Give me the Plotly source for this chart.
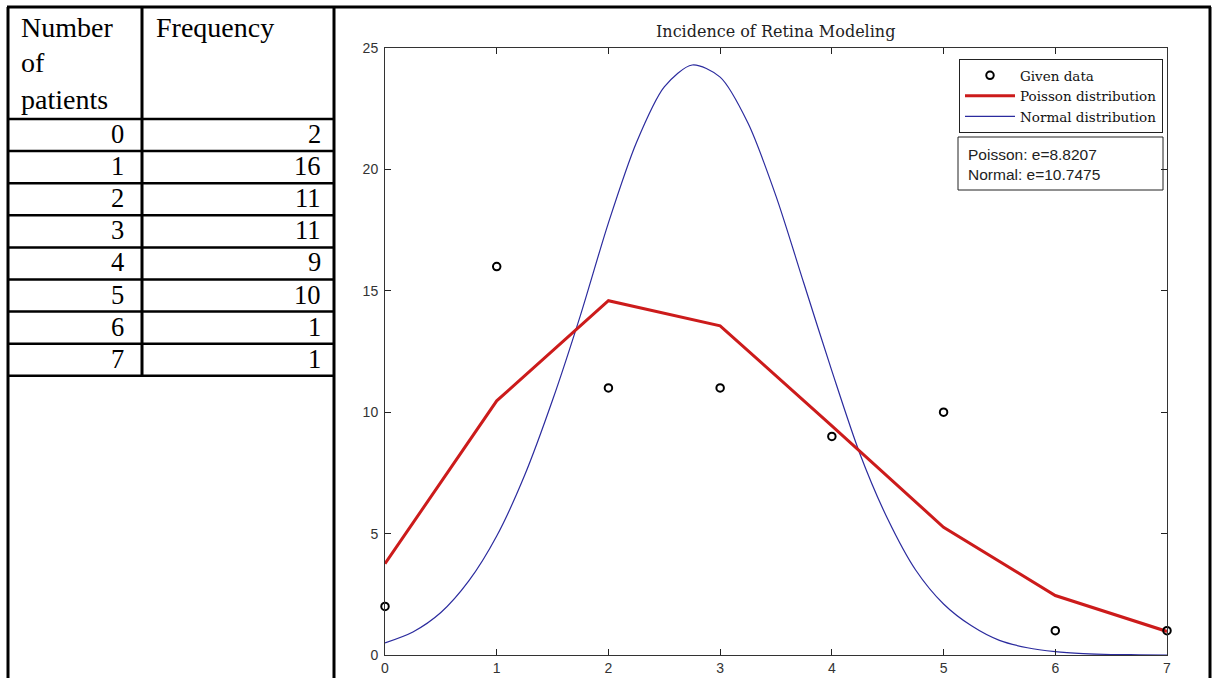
import plotly.graph_objects as go

W, H = 1214, 678

# ---- data ----
patients = [0, 1, 2, 3, 4, 5, 6, 7]
frequency = [2, 16, 11, 11, 9, 10, 1, 1]

poisson_fit = [3.76, 10.47, 14.59, 13.56, 9.44, 5.26, 2.45, 0.97]

normal_x = [0, 0.25, 0.5, 0.75, 1, 1.25, 1.5, 1.75, 2, 2.25, 2.5, 2.75, 3,
            3.25, 3.5, 3.75, 4, 4.25, 4.5, 4.75, 5, 5.25, 5.5, 5.75, 6,
            6.25, 6.5, 6.75, 7]
normal_fit = [0.5, 0.95, 1.75, 3.05, 4.9, 7.4, 10.5, 14.0, 17.8, 21.1, 23.4,
              24.3, 23.8, 21.9, 18.9, 15.3, 11.7, 8.3, 5.6, 3.5, 2.1, 1.2,
              0.6, 0.3, 0.14, 0.06, 0.02, 0.01, 0.0]

x_ticks = [0, 1, 2, 3, 4, 5, 6, 7]
y_ticks = [0, 5, 10, 15, 20, 25]

header_left = ["Number", "of", "patients"]
header_right = "Frequency"
errors = {"Poisson": 8.8207, "Normal": 10.7475}


def px(x):
    return x / W


def py(y):
    return 1 - y / H


fig = go.Figure()

fig.add_trace(go.Scatter(
    x=normal_x, y=normal_fit, mode="lines", name="Normal distribution",
    line=dict(color="#2b2b9e", width=1.2, shape="spline", smoothing=0.8),
    legendrank=3,
))
fig.add_trace(go.Scatter(
    x=patients, y=poisson_fit, mode="lines", name="Poisson distribution",
    line=dict(color="#cc1b1b", width=3),
    legendrank=2,
))
fig.add_trace(go.Scatter(
    x=patients, y=frequency, mode="markers", name="Given data",
    marker=dict(symbol="circle-open", size=7.5, color="black",
                line=dict(width=2, color="black")),
    cliponaxis=False, legendrank=1,
))

axis_common = dict(
    ticks="inside", ticklen=6, tickcolor="#222", tickwidth=1,
    showline=True, linecolor="#333", linewidth=1, mirror="ticks",
    showgrid=False, zeroline=False, automargin=False,
    tickfont=dict(family="Liberation Sans", size=14, color="#333"),
)

fig.update_layout(
    width=W, height=H,
    margin=dict(l=0, r=0, t=0, b=0, pad=0, autoexpand=False),
    paper_bgcolor="white", plot_bgcolor="white",
    xaxis=dict(domain=[px(385), px(1167)], range=[0, 7],
               tickvals=x_ticks, **axis_common),
    yaxis=dict(domain=[py(655), py(48)], range=[0, 25],
               tickvals=y_ticks, ticklabelstandoff=3, **axis_common),
    showlegend=True,
    legend=dict(
        x=px(1163), xanchor="right", y=py(59), yanchor="top",
        bordercolor="#222", borderwidth=1, bgcolor="white",
        font=dict(family="DejaVu Serif", size=13.5, color="#111"),
        itemwidth=50, tracegroupgap=0,
    ),
)

shapes = []
annotations = []

# table frame
frame_color = "black"
shapes.append(dict(type="line", xref="paper", yref="paper",
                   x0=px(7), x1=px(1211), y0=py(7), y1=py(7),
                   line=dict(color=frame_color, width=3)))
for xv, y_end in [(8, 690), (334, 690), (1210, 690), (142, 376)]:
    shapes.append(dict(type="line", xref="paper", yref="paper",
                       x0=px(xv), x1=px(xv), y0=py(7), y1=py(y_end),
                       line=dict(color=frame_color, width=3)))

row_top = 119
row_h = 32.1
for i in range(len(patients) + 1):
    yy = row_top + i * row_h
    shapes.append(dict(type="line", xref="paper", yref="paper",
                       x0=px(8), x1=px(334), y0=py(yy), y1=py(yy),
                       line=dict(color=frame_color, width=2.5)))

header_font = dict(family="Liberation Serif", size=28, color="black")
table_font = dict(family="Liberation Serif", size=26.5, color="black")

# header cells
for word, yc in zip(header_left, [27.8, 62.5, 99.5]):
    annotations.append(dict(xref="paper", yref="paper", x=px(19),
                            y=py(yc), xanchor="left",
                            yanchor="middle", text=word, showarrow=False,
                            font=header_font))
annotations.append(dict(xref="paper", yref="paper", x=px(154), y=py(27.8),
                        xanchor="left", yanchor="middle", text=header_right,
                        showarrow=False, font=header_font))

# body cells
for i, (n, f) in enumerate(zip(patients, frequency)):
    yc = row_top + (i + 0.5) * row_h - 1
    annotations.append(dict(xref="paper", yref="paper", x=px(126), y=py(yc),
                            xanchor="right", yanchor="middle", text=str(n),
                            showarrow=False, font=table_font))
    annotations.append(dict(xref="paper", yref="paper", x=px(323), y=py(yc),
                            xanchor="right", yanchor="middle", text=str(f),
                            showarrow=False, font=table_font))

# plot title
annotations.append(dict(xref="paper", yref="paper", x=px(776), y=py(31),
                        xanchor="center", yanchor="middle",
                        text="Incidence of Retina Modeling", showarrow=False,
                        font=dict(family="DejaVu Serif", size=16, color="#222")))

# error box
shapes.append(dict(type="rect", xref="paper", yref="paper",
                   x0=px(958), x1=px(1163), y0=py(190), y1=py(137),
                   line=dict(color="#222", width=1)))
for i, (k, v) in enumerate(errors.items()):
    annotations.append(dict(xref="paper", yref="paper", x=px(966),
                            y=py(155 + i * 20), xanchor="left",
                            yanchor="middle", text=f"{k}: e={v}",
                            showarrow=False,
                            font=dict(family="Liberation Sans", size=15.5,
                                      color="#222")))

fig.update_layout(shapes=shapes, annotations=annotations)

fig.write_html("out.html")
